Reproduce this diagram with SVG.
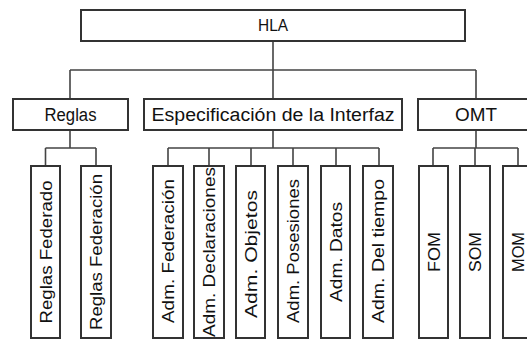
<svg xmlns="http://www.w3.org/2000/svg" width="527" height="339" viewBox="0 0 527 339">
<style>
.box{fill:#fff;stroke:#333;stroke-width:2}
.ln{fill:none;stroke:#444;stroke-width:1.6}
text{font-family:"Liberation Sans","DejaVu Sans",sans-serif;fill:#111;text-anchor:middle}
.t1{font-size:17px}
.t2{font-size:18px}
.t3{font-size:16.5px}
</style>
<rect width="527" height="339" fill="#fff"/>
<g id="connectors">
<path class="ln" d="M273 41V70M70 70H476M70 70V99M273 70V99M476 70V99"/>
<path class="ln" d="M70 130V148M45.5 148H96M45.5 148V166M96 148V166"/>
<path class="ln" d="M273 130V148M168 148H379M168 148V166M209 148V166M251 148V166M293 148V166M336 148V166M379 148V166"/>
<path class="ln" d="M476 130V148M433 148H518M433 148V166M475 148V166M518 148V166"/>
</g>
<g id="hla"><rect class="box" x="81" y="10" width="384" height="31"/><text class="t1" x="273" y="31" textLength="30" lengthAdjust="spacingAndGlyphs">HLA</text></g>
<g id="reglas"><rect class="box" x="13" y="99" width="115" height="31"/><text class="t2" x="70.5" y="121" textLength="52" lengthAdjust="spacingAndGlyphs">Reglas</text></g>
<g id="especificacion"><rect class="box" x="144" y="99" width="258" height="31"/><text class="t2" x="273" y="121" textLength="243" lengthAdjust="spacingAndGlyphs">Especificación de la Interfaz</text></g>
<g id="omt"><rect class="box" x="418" y="99" width="116" height="31"/><text class="t2" x="476" y="121" textLength="42" lengthAdjust="spacingAndGlyphs">OMT</text></g>
<g id="reglas-federado"><rect class="box" x="31" y="166" width="29" height="172"/><text class="t3" transform="translate(51.5,252) rotate(-90)" textLength="143" lengthAdjust="spacingAndGlyphs">Reglas Federado</text></g>
<g id="reglas-federacion"><rect class="box" x="81" y="166" width="30" height="172"/><text class="t3" transform="translate(102,252) rotate(-90)" textLength="156" lengthAdjust="spacingAndGlyphs">Reglas Federación</text></g>
<g id="adm-federacion"><rect class="box" x="153" y="166" width="30" height="172"/><text class="t3" transform="translate(174,251) rotate(-90)" textLength="144" lengthAdjust="spacingAndGlyphs">Adm. Federación</text></g>
<g id="adm-declaraciones"><rect class="box" x="194" y="166" width="30" height="172"/><text class="t3" transform="translate(215,252) rotate(-90)" textLength="170" lengthAdjust="spacingAndGlyphs">Adm. Declaraciones</text></g>
<g id="adm-objetos"><rect class="box" x="236" y="166" width="29" height="172"/><text class="t3" transform="translate(256.5,254) rotate(-90)" textLength="128" lengthAdjust="spacingAndGlyphs">Adm. Objetos</text></g>
<g id="adm-posesiones"><rect class="box" x="278" y="166" width="30" height="172"/><text class="t3" transform="translate(299,251) rotate(-90)" textLength="144" lengthAdjust="spacingAndGlyphs">Adm. Posesiones</text></g>
<g id="adm-datos"><rect class="box" x="321" y="166" width="29" height="172"/><text class="t3" transform="translate(341.5,252) rotate(-90)" textLength="100" lengthAdjust="spacingAndGlyphs">Adm. Datos</text></g>
<g id="adm-del-tiempo"><rect class="box" x="363" y="166" width="30" height="172"/><text class="t3" transform="translate(384,251) rotate(-90)" textLength="144" lengthAdjust="spacingAndGlyphs">Adm. Del tiempo</text></g>
<g id="fom"><rect class="box" x="419" y="166" width="29" height="172"/><text class="t3" transform="translate(439.5,252) rotate(-90)" textLength="40" lengthAdjust="spacingAndGlyphs">FOM</text></g>
<g id="som"><rect class="box" x="460" y="166" width="30" height="172"/><text class="t3" transform="translate(481,252) rotate(-90)" textLength="40" lengthAdjust="spacingAndGlyphs">SOM</text></g>
<g id="mom"><rect class="box" x="503" y="166" width="30" height="172"/><text class="t3" transform="translate(524,252) rotate(-90)" textLength="40" lengthAdjust="spacingAndGlyphs">MOM</text></g>
</svg>
